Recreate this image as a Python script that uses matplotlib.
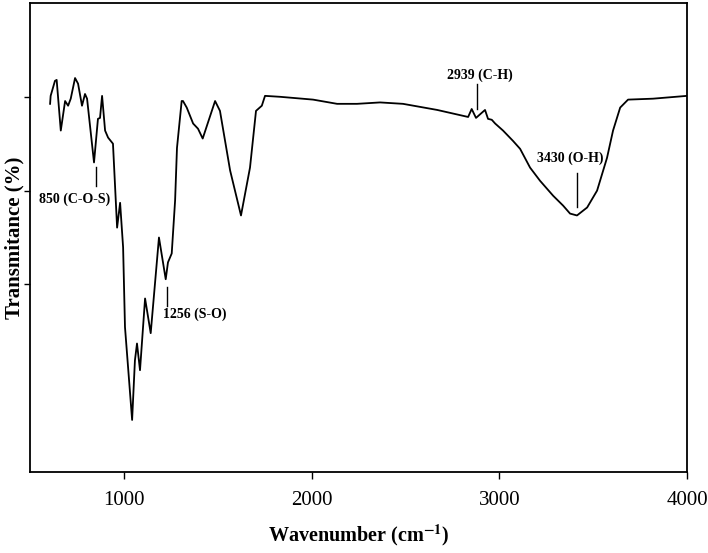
import matplotlib
matplotlib.use('Agg')
import matplotlib.pyplot as plt

# FTIR spectrum (wavenumber in cm-1, transmittance in arbitrary %)
wavenumber = [607, 610, 633, 642, 664, 687, 703, 717, 740, 756, 777, 793, 804, 841,
              862, 873, 884, 900, 916, 942, 964, 980, 996, 1006, 1044, 1059, 1070,
              1086, 1113, 1143, 1187, 1223, 1235, 1255, 1273, 1283, 1308, 1315, 1335,
              1369, 1395, 1420, 1448, 1486, 1512, 1566, 1624, 1672, 1704, 1735, 1752,
              1832, 2008, 2136, 2242, 2365, 2487, 2669, 2834, 2853, 2876, 2924, 2940,
              2960, 2978, 3020, 3073, 3111, 3164, 3217, 3287, 3340, 3377, 3414, 3468,
              3521, 3574, 3606, 3644, 3686, 3819, 4000]
transmittance = [78.5, 80.2, 83.4, 83.6, 72.8, 79.1, 78.1, 79.6, 84.0, 82.8, 78.1, 80.6,
                 79.6, 66.0, 75.3, 75.5, 80.2, 72.8, 71.3, 70.0, 52.1, 57.4, 47.9, 30.9,
                 11.1, 23.8, 27.4, 21.7, 37.0, 29.6, 50.0, 41.1, 44.7, 46.6, 57.9, 69.1,
                 79.1, 79.1, 77.7, 74.3, 73.2, 71.1, 74.5, 79.1, 77.0, 64.3, 54.7, 64.9,
                 77.0, 78.1, 80.2, 80.0, 79.4, 78.5, 78.5, 78.8, 78.5, 77.2, 75.7, 77.4,
                 75.5, 77.2, 75.3, 75.1, 74.3, 72.8, 70.6, 68.9, 64.9, 62.1, 58.9, 56.8,
                 55.1, 54.7, 56.4, 60.0, 67.0, 72.8, 77.7, 79.4, 79.6, 80.2]

# peak labels: text, text x, text y, marker x, marker y top, marker y bottom
peak_labels = ['850 (C-O-S)', '1256 (S-O)', '2939 (C-H)', '3430 (O-H)']
label_x = [740, 1379, 2898, 3377]
label_y = [58.1, 33.6, 84.5, 67.0]
line_x = [850, 1230, 2883, 3416]
line_top = [65.0, 39.4, 82.8, 63.8]
line_bot = [61.0, 35.5, 77.5, 56.4]

plt.rcParams['font.family'] = ['Liberation Serif', 'DejaVu Serif']
plt.rcParams['mathtext.fontset'] = 'stix'

fig = plt.figure(figsize=(7.08, 5.53), dpi=100)
ax = fig.add_axes([30 / 708, 81 / 553, 657 / 708, 469 / 553])

ax.plot(wavenumber, transmittance, color='black', lw=1.3)

for i in range(len(peak_labels)):
    ax.plot([line_x[i], line_x[i]], [line_bot[i], line_top[i]], color='black', lw=1.0)
    ax.text(label_x[i], label_y[i], peak_labels[i], fontsize=10, fontweight='bold',
            ha='center', va='center')

ax.set_xlim(500, 4000)
ax.set_ylim(0, 100)
ax.set_xticks([1000, 2000, 3000, 4000])
ax.set_yticks([40, 60, 80])
ax.set_yticklabels([])
ax.tick_params(axis='x', labelsize=15, direction='out', length=5, width=1, pad=9)
ax.tick_params(axis='y', direction='out', length=4, width=1)
for s in ax.spines.values():
    s.set_linewidth(1.3)

ax.set_xlabel(r'Wavenumber (cm$^{\mathbf{-1}}$)', fontsize=14.5, fontweight='bold', va='center')
ax.xaxis.set_label_coords(0.5, -0.134)
ax.set_ylabel('Transmitance (%)', fontsize=15, fontweight='bold', va='center')
ax.yaxis.set_label_coords(-0.024, 0.5)

fig.savefig('out.png', dpi=100)
